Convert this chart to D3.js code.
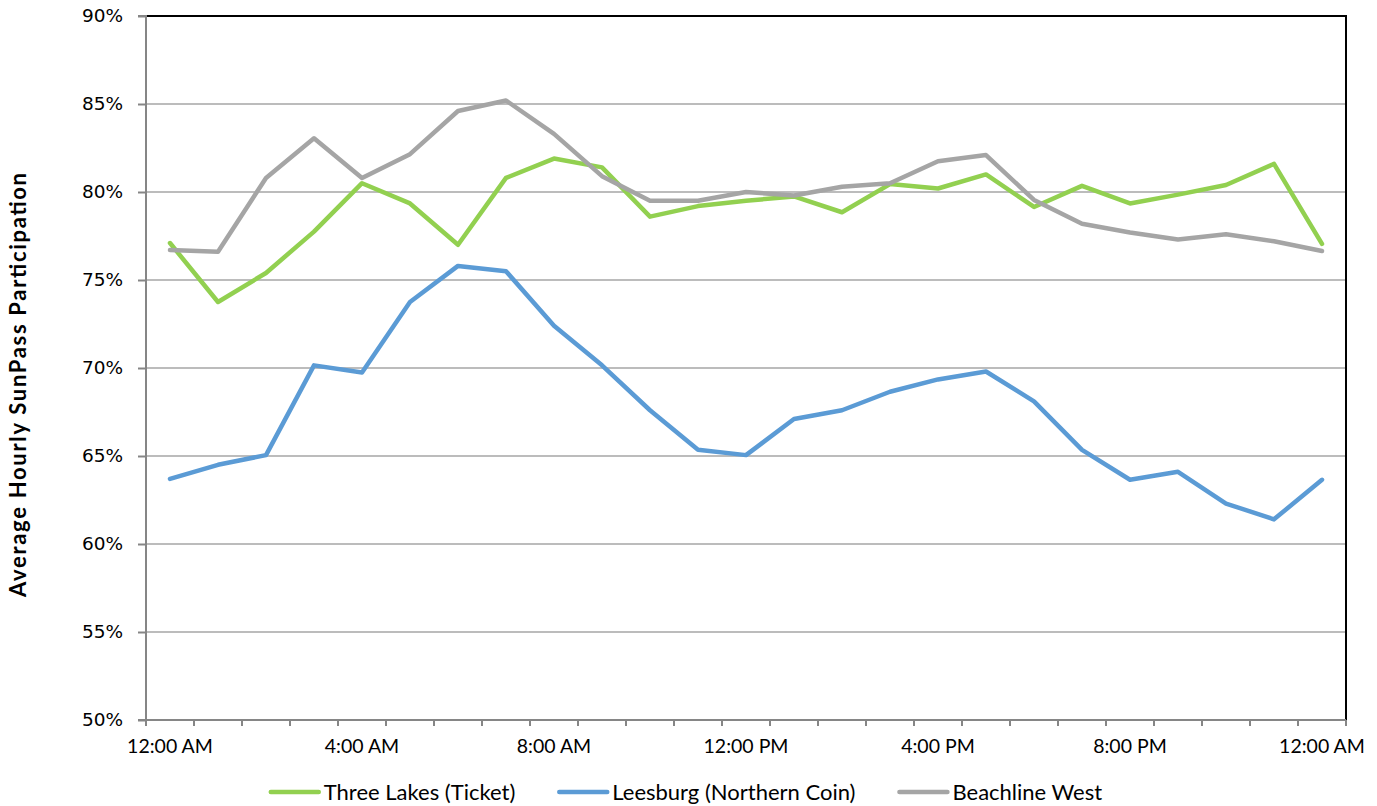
<!DOCTYPE html>
<html>
<head>
<meta charset="utf-8">
<script src="https://cdn.jsdelivr.net/npm/d3@7"></script>
<style>
  body { margin: 0; background: #fff; }
</style>
</head>
<body>
<div id="chart"></div>
<script>
const hourLabels = ["12:00 AM", "1:00 AM", "2:00 AM", "3:00 AM", "4:00 AM", "5:00 AM", "6:00 AM",
  "7:00 AM", "8:00 AM", "9:00 AM", "10:00 AM", "11:00 AM", "12:00 PM", "1:00 PM", "2:00 PM",
  "3:00 PM", "4:00 PM", "5:00 PM", "6:00 PM", "7:00 PM", "8:00 PM", "9:00 PM", "10:00 PM",
  "11:00 PM", "12:00 AM"];

const threeLakes = [77.1, 73.75, 75.4, 77.75, 80.5, 79.35, 77.0, 80.8, 81.9, 81.4, 78.6, 79.2,
  79.5, 79.75, 78.85, 80.45, 80.2, 81.0, 79.15, 80.35, 79.35, 79.85, 80.4, 81.6, 77.05];
const leesburg = [63.7, 64.5, 65.05, 70.15, 69.75, 73.75, 75.8, 75.5, 72.4, 70.15, 67.6, 65.35,
  65.05, 67.1, 67.6, 68.65, 69.35, 69.8, 68.1, 65.35, 63.65, 64.1, 62.3, 61.4, 63.65];
const beachline = [76.7, 76.6, 80.8, 83.05, 80.8, 82.15, 84.6, 85.2, 83.3, 80.9, 79.5, 79.5,
  80.0, 79.8, 80.3, 80.5, 81.75, 82.1, 79.55, 78.2, 77.7, 77.3, 77.6, 77.2, 76.65];

const yTicks = [50, 55, 60, 65, 70, 75, 80, 85, 90];
const labelEvery = 4;

const seriesNames = ["Three Lakes (Ticket)", "Leesburg (Northern Coin)", "Beachline West"];
const seriesColors = ["#92d050", "#5b9bd5", "#a5a5a5"];

const width = 1377;
const height = 806;
const margin = { top: 16, right: 31, bottom: 86, left: 146 };

const series = [threeLakes, leesburg, beachline].map((values, i) => ({
  name: seriesNames[i],
  color: seriesColors[i],
  values: values
}));

const svg = d3.select("#chart")
  .append("svg")
  .attr("width", width)
  .attr("height", height);

const xScale = d3.scaleBand()
  .domain(d3.range(hourLabels.length))
  .range([margin.left, width - margin.right]);

const yScale = d3.scaleLinear()
  .domain([50, 90])
  .range([height - margin.bottom, margin.top]);

const x0 = margin.left;
const x1 = width - margin.right;
const y0 = height - margin.bottom;
const y1 = margin.top;

// gridlines
svg.append("g")
  .selectAll("line")
  .data(yTicks.filter((d) => d > 50 && d < 90))
  .enter()
  .append("line")
  .attr("x1", x0)
  .attr("x2", x1)
  .attr("y1", (d) => yScale(d))
  .attr("y2", (d) => yScale(d))
  .attr("stroke", "#a6a6a6")
  .attr("stroke-width", 1.5);

// top and right border
svg.append("path")
  .attr("d", `M${x0},${y1}H${x1}V${y0}`)
  .attr("fill", "none")
  .attr("stroke", "#000")
  .attr("stroke-width", 2);

// y axis
const yAxis = svg.append("g")
  .attr("transform", `translate(${x0},0)`)
  .call(d3.axisLeft(yScale).tickValues(yTicks).tickSize(8).tickPadding(15)
    .tickFormat((d) => d + "%"));
yAxis.selectAll("path, line").attr("stroke", "#868686").attr("stroke-width", 2);
yAxis.select(".domain").attr("d", `M-8,${y1}H0V${y0}H-8`);
yAxis.selectAll("text")
  .attr("font-family", "DejaVu Sans, Verdana, sans-serif")
  .attr("font-size", 18.5)
  .attr("fill", "#000");

// x axis: ticks on band edges, labels on band centres
const xAxis = svg.append("g")
  .attr("transform", `translate(0,${y0})`);
xAxis.append("line")
  .attr("x1", x0)
  .attr("x2", x1)
  .attr("stroke", "#868686")
  .attr("stroke-width", 2);
xAxis.selectAll(".tick")
  .data(d3.range(hourLabels.length + 1))
  .enter()
  .append("line")
  .attr("x1", (d) => x0 + d * xScale.step())
  .attr("x2", (d) => x0 + d * xScale.step())
  .attr("y1", 0)
  .attr("y2", 6)
  .attr("stroke", "#868686")
  .attr("stroke-width", 2);
xAxis.selectAll("text")
  .data(hourLabels.map((d, i) => ({ label: d, i: i })).filter((d) => d.i % labelEvery === 0))
  .enter()
  .append("text")
  .attr("x", (d) => xScale(d.i) + xScale.bandwidth() / 2)
  .attr("y", 33)
  .attr("text-anchor", "middle")
  .attr("font-family", "Lato, sans-serif")
  .attr("font-size", 19.5)
  .attr("fill", "#000")
  .text((d) => d.label);

// y axis title
svg.append("text")
  .attr("transform", `translate(26,385) rotate(-90)`)
  .attr("text-anchor", "middle")
  .attr("font-family", "Lato, sans-serif")
  .attr("font-weight", "bold")
  .attr("font-size", 22)
  .attr("textLength", 424)
  .attr("lengthAdjust", "spacing")
  .attr("fill", "#000")
  .text("Average Hourly SunPass Participation");

// lines
const lineGenerator = d3.line()
  .x((d, i) => xScale(i) + xScale.bandwidth() / 2)
  .y((d) => yScale(d));

svg.append("g")
  .selectAll("path")
  .data(series)
  .enter()
  .append("path")
  .attr("fill", "none")
  .attr("stroke", (d) => d.color)
  .attr("stroke-width", 4.5)
  .attr("stroke-linejoin", "round")
  .attr("stroke-linecap", "round")
  .attr("d", (d) => lineGenerator(d.values));

// legend
const legend = svg.append("g");
const items = legend.selectAll("g")
  .data(series)
  .enter()
  .append("g");
items.append("line")
  .attr("x1", 0)
  .attr("x2", 48)
  .attr("stroke", (d) => d.color)
  .attr("stroke-width", 4.5)
  .attr("stroke-linecap", "round");
items.append("text")
  .attr("x", 53)
  .attr("y", 7.5)
  .attr("font-family", "Lato, sans-serif")
  .attr("font-size", 22)
  .attr("fill", "#000")
  .text((d) => d.name);

let offset = 0;
const widths = [];
items.each(function () {
  widths.push(this.getBBox().width);
});
const legendGap = 44;
const totalWidth = d3.sum(widths) + legendGap * (widths.length - 1);
items.attr("transform", (d, i) => {
  const t = `translate(${offset},0)`;
  offset += widths[i] + legendGap;
  return t;
});
legend.attr("transform", `translate(${(263 + 1110) / 2 - totalWidth / 2},792)`);
</script>
</body>
</html>
